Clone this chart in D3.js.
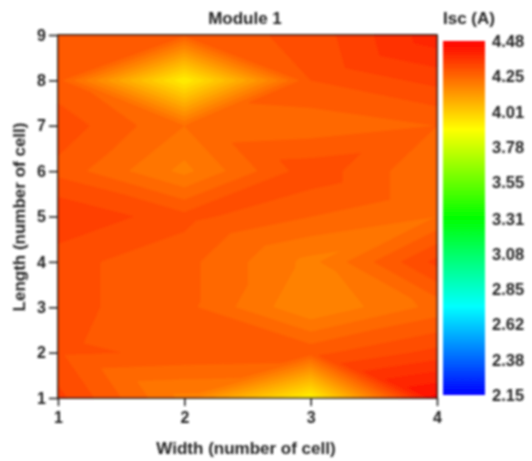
<!DOCTYPE html>
<html><head><meta charset="utf-8">
<script src="https://cdnjs.cloudflare.com/ajax/libs/d3/7.8.5/d3.min.js"></script>
<style>html,body{margin:0;padding:0;background:#fff}svg{display:block}
text{font-family:"Liberation Sans",Arial,sans-serif;font-weight:bold;fill:#222}</style>
</head><body><svg id="c" width="532" height="461"></svg>
<script>
const widths = [1,2,3,4];
const lengths = [1,2,3,4,5,6,7,8,9];
// Isc at each Length (row, from 1 up to 9) for each Width (column)
const row1 = [4.33,4.19,3.92,4.45];
const row2 = [4.295,4.285,4.28,4.33];
const row3 = [4.30,4.27,4.17,4.24];
const row4 = [4.30,4.27,4.19,4.33];
const row5 = [4.35,4.30,4.26,4.23];
const row6 = [4.28,4.19,4.31,4.23];
const row7 = [4.31,4.23,4.24,4.26];
const row8 = [4.27,3.93,4.29,4.33];
const row9 = [4.29,4.27,4.30,4.40];
const rows = [row1,row2,row3,row4,row5,row6,row7,row8,row9];
const barTicks = ["2.15","2.38","2.62","2.85","3.08","3.31","3.55","3.78","4.01","4.25","4.48"];
const colorStops = ["#0000ff","#00ffff","#00ff00","#ffff00","#ff0000"];
const zMin = 2.15, zMax = 4.48;

const svg = d3.select("#c");
const defs = svg.append("defs");
defs.append("filter").attr("id","soft").attr("x","-5%").attr("y","-5%").attr("width","110%").attr("height","110%")
  .append("feGaussianBlur").attr("stdDeviation",1.1);
const root = svg.append("g").attr("filter","url(#soft)");
const L=58,R=437,T=35,B=398;
const x = d3.scaleLinear().domain([1,4]).range([L,R]);
const y = d3.scaleLinear().domain([1,9]).range([B,T]);
const color = d3.scaleLinear()
  .domain(colorStops.map((_,i)=>zMin+(zMax-zMin)*i/(colorStops.length-1)))
  .range(colorStops).clamp(true);

// value inside a grid cell: triangles with alternating diagonals, so that
// every vertex with an even index sum is joined only to its four neighbours
function valueAt(u,v){
  const i=Math.min(Math.floor(u),widths.length-2), j=Math.min(Math.floor(v),lengths.length-2);
  const s=u-i,t=v-j;
  const a=rows[j][i],b=rows[j][i+1],c=rows[j+1][i],d=rows[j+1][i+1];
  if((widths[i]+lengths[j])%2===0){
    return s+t<=1 ? a+(b-a)*s+(c-a)*t : d+(c-d)*(1-s)+(b-d)*(1-t);
  }
  return t<=s ? b+(a-b)*(1-s)+(d-b)*t : c+(d-c)*s+(a-c)*(1-t);
}
const nx=Math.round(R-L), ny=Math.round(B-T);
const grid=new Float64Array(nx*ny);
for(let r=0;r<ny;r++)for(let q=0;q<nx;q++){
  grid[r*nx+q]=valueAt((q+.5)/nx*(widths.length-1),(1-(r+.5)/ny)*(lengths.length-1));
}
const levels=d3.range(3.81,4.5,0.03);
const contours=d3.contours().size([nx,ny]).thresholds(levels)(grid);
const path=d3.geoPath(d3.geoTransform({point(px,py){
  this.stream.point(x(1+px/nx*3), y(9-py/ny*8));
}}));
root.append("rect").attr("x",L).attr("y",T).attr("width",R-L).attr("height",B-T).attr("fill",color(3.9));
root.append("g").selectAll("path").data(contours).join("path")
  .attr("d",path).attr("fill",d=>color(d.value+0.015)).attr("stroke",d=>color(d.value+0.015)).attr("stroke-width",0.3);

// frame and axes
root.append("rect").attr("x",L).attr("y",T).attr("width",R-L).attr("height",B-T)
  .attr("fill","none").attr("stroke","#1a1a1a").attr("stroke-width",1.6);
const ax=root.append("g").attr("transform",`translate(0,${B})`)
  .call(d3.axisBottom(x).tickValues(widths).tickFormat(d3.format("d")).tickSize(8).tickPadding(6));
const ay=root.append("g").attr("transform",`translate(${L},0)`)
  .call(d3.axisLeft(y).tickValues(lengths).tickFormat(d3.format("d")).tickSize(9).tickPadding(3));
[ax,ay].forEach(g=>{g.select(".domain").remove();
  g.selectAll("line").attr("stroke","#1a1a1a").attr("stroke-width",1.5);
  g.selectAll("text").style("font-size","16px");});

const label=(px,py,s,size,anchor="middle")=>root.append("text").attr("x",px).attr("y",py)
  .attr("text-anchor",anchor).style("font-size",size+"px").text(s);
label(245,24,"Module 1",17);
label(246,454,"Width (number of cell)",17);
root.append("text").attr("transform","translate(25,217) rotate(-90)").attr("text-anchor","middle")
  .style("font-size","17px").text("Length (number of cell)");
label(443,24,"Isc (A)",17,"start");

// colour bar
const bx0=443,bx1=485,by0=41,by1=395;
const grad=defs.append("linearGradient").attr("id","bar").attr("x1",0).attr("x2",0).attr("y1",1).attr("y2",0);
grad.selectAll("stop").data(colorStops).join("stop")
  .attr("offset",(d,i)=>i/(colorStops.length-1)).attr("stop-color",d=>d);
root.append("rect").attr("x",bx0).attr("y",by0).attr("width",bx1-bx0).attr("height",by1-by0).attr("fill","url(#bar)");
const yBar=d3.scaleLinear().domain([zMin,zMax]).range([by1,by0]);
root.append("g").selectAll("text").data(barTicks).join("text")
  .attr("x",492).attr("y",d=>yBar(+d)+6).style("font-size","16.5px").text(d=>d);
</script></body></html>
